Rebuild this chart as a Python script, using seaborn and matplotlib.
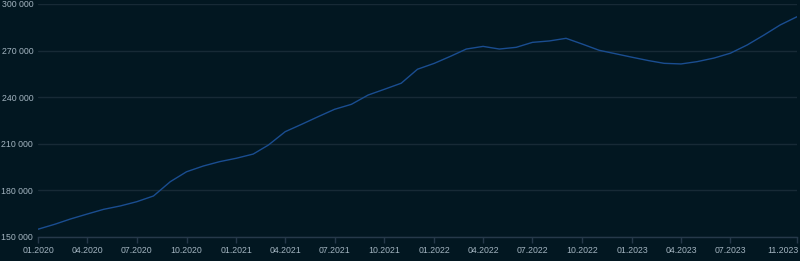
import matplotlib
matplotlib.use("Agg")
import matplotlib.pyplot as plt
import matplotlib.dates as mdates
import matplotlib.transforms as mtrans
import seaborn as sns
import pandas as pd

months = pd.date_range("2020-01-01", "2023-11-01", freq="MS")
values = [
    155000, 158200, 161600, 164800, 167800, 170000, 172700, 176400, 185600, 192000, 195700, 198500,
    200700, 203400, 209200, 217800, 222500, 227500, 232200, 235400, 241400, 245100, 249000, 258000,
    261800, 266500, 271000, 272700, 271000, 272100, 275300, 276200, 277900, 274200, 270200, 268000,
    265700, 263500, 261800, 261400, 262900, 265200, 268300, 273600, 280000, 286500, 291800,
]
tick_dates = ["2020-01-01", "2020-04-01", "2020-07-01", "2020-10-01",
              "2021-01-01", "2021-04-01", "2021-07-01", "2021-10-01",
              "2022-01-01", "2022-04-01", "2022-07-01", "2022-10-01",
              "2023-01-01", "2023-04-01", "2023-07-01", "2023-11-01"]
y_ticks = [150000, 180000, 210000, 240000, 270000, 300000]

df = pd.DataFrame({"date": months, "value": values})

bg = "#021721"
grid = "#172a36"
txt = "#a3b4c0"

sns.set_theme(style="dark")
plt.rcParams['font.family'] = ['Liberation Sans', 'DejaVu Sans']

fig = plt.figure(figsize=(8, 2.61), dpi=100, facecolor=bg)
ax = fig.add_axes([0.0475, 0.092, 0.94875, 0.8927])
ax.set_facecolor(bg)

sns.lineplot(data=df, x="date", y="value", ax=ax, color="#1a4d90", linewidth=1.0)

ax.set_xlim(pd.Timestamp("2020-01-01"), pd.Timestamp("2023-11-01"))
ax.set_ylim(150000, 300000)
ax.set_yticks(y_ticks)
ax.set_yticklabels([f"{v:,}".replace(",", " ") for v in y_ticks])
ax.set_xticks([pd.Timestamp(d) for d in tick_dates])
ax.xaxis.set_major_formatter(mdates.DateFormatter("%m.%Y"))

ax.grid(axis="y", color=grid, linewidth=1)
ax.grid(axis="x", visible=False)
for s in ["top", "right", "left"]:
    ax.spines[s].set_visible(False)
ax.spines["bottom"].set_color("#26394a")
ax.spines["bottom"].set_linewidth(1)

ax.tick_params(axis="x", colors=txt, labelsize=6.3, length=4, width=1, color="#26394a", pad=2.5, bottom=True)
ax.tick_params(axis="y", colors=txt, labelsize=6.3, length=0, pad=3.5)
ax.set_xlabel("")
ax.set_ylabel("")

fig.canvas.draw()
labels = ax.get_xticklabels()
labels[-1].set_horizontalalignment("right")
labels[-1].set_transform(labels[-1].get_transform() + mtrans.ScaledTranslation(2.0/100, 0, fig.dpi_scale_trans))

fig.savefig("out.png", dpi=100, facecolor=bg)
